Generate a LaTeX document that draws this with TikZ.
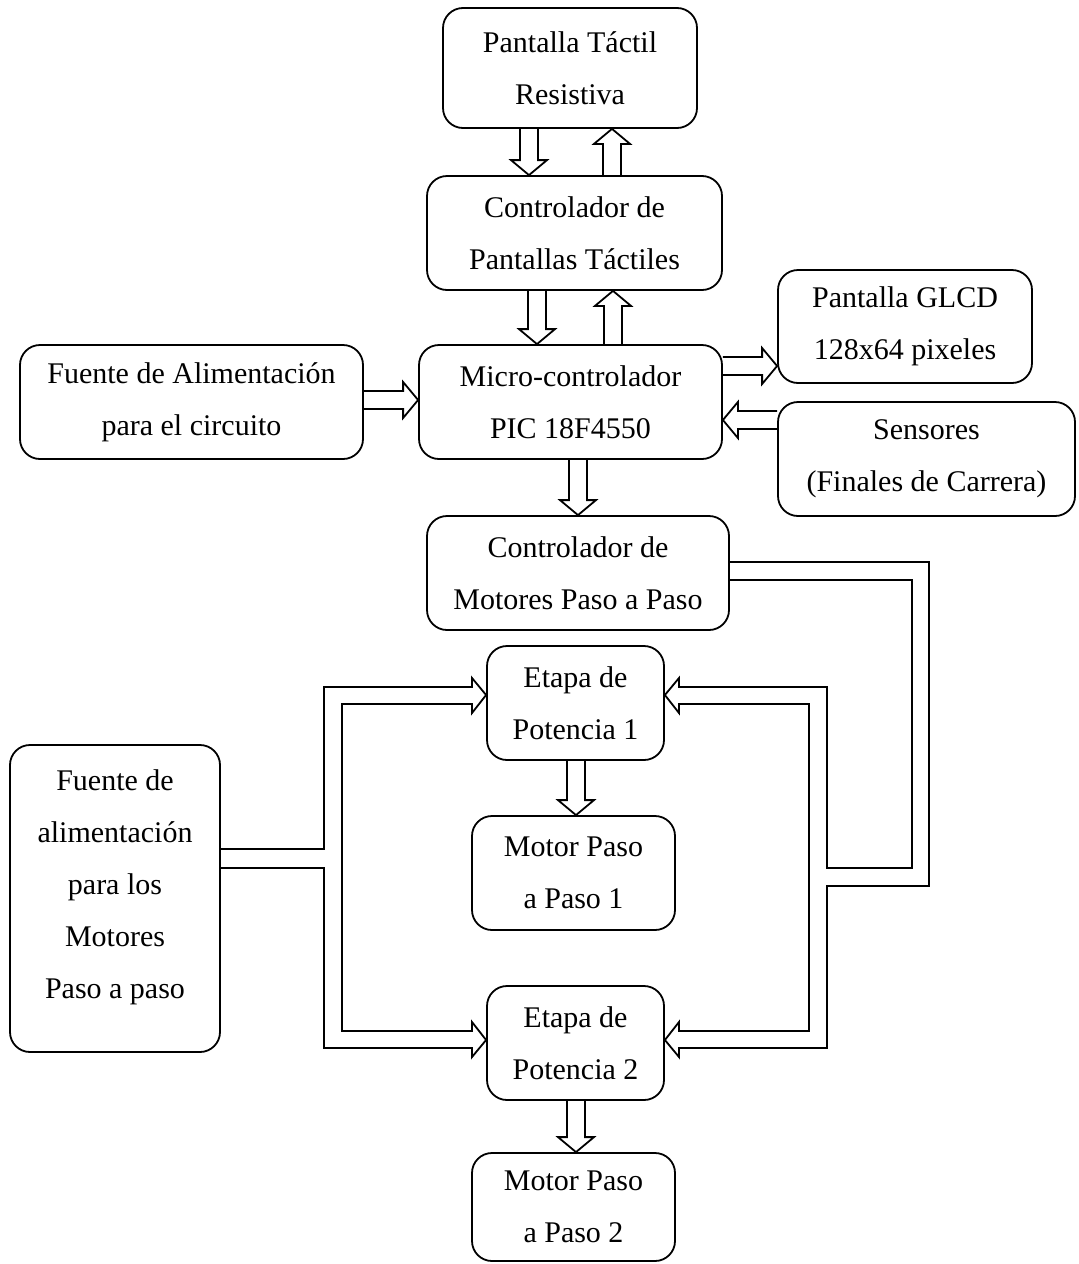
\documentclass[tikz,border=0pt]{standalone}
\usepackage{fontspec}
\setmainfont{Liberation Serif}
\usetikzlibrary{calc}
\tikzset{
  box/.style={draw, line width=1.8pt, rounded corners=20pt, align=center,
    inner sep=0pt, font=\fontsize{30}{52}\selectfont},
  arr/.style={draw, line width=1.8pt, line join=miter},
}
\newcommand\hollow[2]{%
  \coordinate (hA) at (#1); \coordinate (hB) at (#2);
  \coordinate (hH) at ($(hB)!15pt!(hA)$);
  \draw[arr] ($(hA)!9pt!90:(hB)$) -- ($(hH)!9pt!90:(hB)$) -- ($(hH)!18pt!90:(hB)$)
    -- (hB) -- ($(hH)!18pt!-90:(hB)$) -- ($(hH)!9pt!-90:(hB)$) -- ($(hA)!9pt!-90:(hB)$);}
\begin{document}
\begin{tikzpicture}[x=1pt,y=-1pt]
\useasboundingbox (0,0) rectangle (1079,1264);
\node[box, minimum width=254pt, minimum height=120pt] (trt) at (570,68) {Pantalla Táctil\\Resistiva};
\node[box, minimum width=295pt, minimum height=114pt] (ctp) at (574.5,233) {Controlador de\\Pantallas Táctiles};
\node[box, minimum width=303pt, minimum height=114pt] (mc) at (570.5,402) {Micro-controlador\\PIC 18F4550};
\node[box, minimum width=343pt, minimum height=114pt] (fa) at (191.5,402) {Fuente de Alimentación\\para el circuito};
\node[box, minimum width=254pt, minimum height=113pt] (glcd) at (905,326.5) {Pantalla GLCD\\128x64 pixeles};
\node[box, minimum width=297pt, minimum height=114pt] (sen) at (926.5,459) {Sensores\\(Finales de Carrera)};
\node[box, minimum width=302pt, minimum height=114pt] (cmp) at (578,573) {Controlador de\\Motores Paso a Paso};
\node[box, minimum width=177pt, minimum height=114pt] (e1) at (575.5,703) {Etapa de\\Potencia 1};
\node[box, minimum width=203pt, minimum height=114pt] (m1) at (573.5,873) {Motor Paso\\a Paso 1};
\node[box, minimum width=210pt, minimum height=307pt] (fm) at (115,898.5) {Fuente de\\alimentación\\para los\\Motores\\Paso a paso\rule[-28pt]{0pt}{1pt}};
\node[box, minimum width=177pt, minimum height=114pt] (e2) at (575.5,1043) {Etapa de\\Potencia 2};
\node[box, minimum width=203pt, minimum height=108pt] (m2) at (573.5,1207) {Motor Paso\\a Paso 2};

\hollow{529,0 |- trt.south}{529,0 |- ctp.north}
\hollow{612,0 |- ctp.north}{612,0 |- trt.south}
\hollow{537,0 |- ctp.south}{537,0 |- mc.north}
\hollow{613,0 |- mc.north}{613,0 |- ctp.south}
\hollow{fa.east |- 0,400}{mc.west |- 0,400}
\hollow{mc.east |- 0,366}{glcd.west |- 0,366}
\hollow{sen.west |- 0,420}{mc.east |- 0,420}
\hollow{578,0 |- mc.south}{578,0 |- cmp.north}
\hollow{576,0 |- e1.south}{576,0 |- m1.north}
\hollow{576,0 |- e2.south}{576,0 |- m2.north}

% right distribution pipe
\draw[arr] (cmp.east |- 0,562) -- (929,562) -- (929,886) -- (827,886) -- (827,1048)
  -- (679,1048) -- (679,1057) -- (e2.east |- 0,1040) -- (679,1022) -- (679,1031)
  -- (809,1031) -- (809,704) -- (679,704) -- (679,713) -- (e1.east |- 0,695)
  -- (679,678) -- (679,687) -- (827,687) -- (827,868) -- (912,868) -- (912,580)
  -- (cmp.east |- 0,580);
% left distribution pipe
\draw[arr] (fm.east |- 0,849) -- (324,849) -- (324,687) -- (472,687) -- (472,678)
  -- (e1.west |- 0,695) -- (472,713) -- (472,704) -- (342,704) -- (342,1031)
  -- (472,1031) -- (472,1022) -- (e2.west |- 0,1040) -- (472,1057) -- (472,1048)
  -- (324,1048) -- (324,868) -- (fm.east |- 0,868);
\end{tikzpicture}
\end{document}
